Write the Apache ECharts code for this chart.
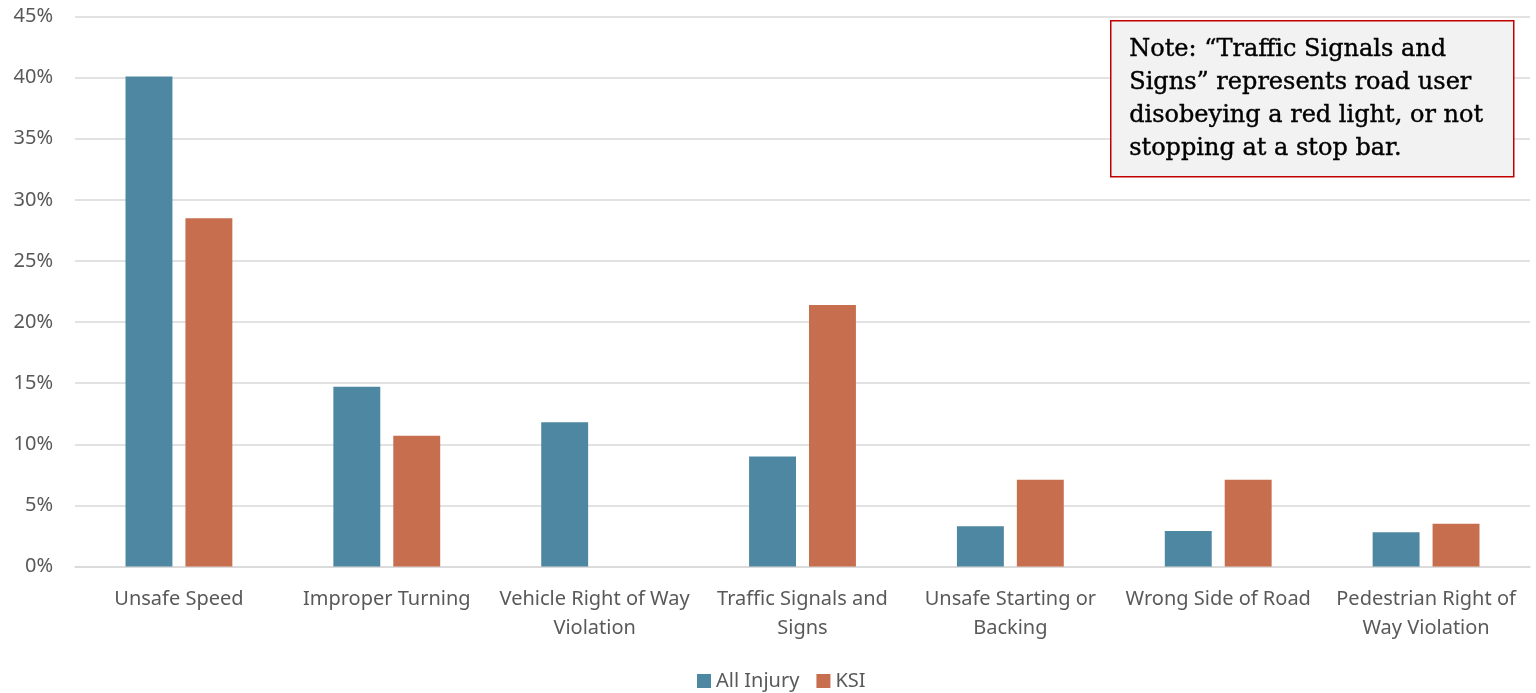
<!DOCTYPE html>
<html><head><meta charset="utf-8">
<script src="https://cdn.jsdelivr.net/npm/echarts@6/dist/echarts.min.js"></script>
<style>html,body{margin:0;padding:0;background:#fff}#c{width:1536px;height:693px}</style>
</head><body><div id="c"></div>
<script>
const categories = ["Unsafe Speed", "Improper Turning", "Vehicle Right of Way\nViolation", "Traffic Signals and\nSigns", "Unsafe Starting or\nBacking", "Wrong Side of Road", "Pedestrian Right of\nWay Violation"];
const allInjury = [40.1, 14.7, 11.8, 9.0, 3.3, 2.9, 2.8];
const ksi = [28.5, 10.7, 0, 21.4, 7.1, 7.1, 3.5];
const yTicks = [0, 45, 5];
const noteText = "Note: \u201cTraffic Signals and\nSigns\u201d represents road user\ndisobeying a red light, or not\nstopping at a stop bar.";

const chart = echarts.init(document.getElementById('c'), null, {renderer: 'canvas'});
const font = '"Noto Sans", "Open Sans", sans-serif';
chart.setOption({
  animation: false,
  backgroundColor: '#ffffff',
  grid: {left: 75, right: 6, top: 16.5, bottom: 126.5, containLabel: false},
  legend: {
    data: ['All Injury', 'KSI'], top: 666, left: 692,
    itemWidth: 14, itemHeight: 14, itemGap: 17,
    icon: 'rect',
    textStyle: {color: '#595959', fontSize: 20, fontFamily: font}
  },
  xAxis: {
    type: 'category', data: categories,
    axisLine: {lineStyle: {color: '#d9d9d9', width: 1.5}},
    axisTick: {show: false},
    axisLabel: {color: '#595959', fontSize: 20, fontFamily: font, interval: 0, margin: 18, lineHeight: 29}
  },
  yAxis: {
    type: 'value', min: yTicks[0], max: yTicks[1], interval: yTicks[2],
    axisLine: {show: false}, axisTick: {show: false},
    splitLine: {lineStyle: {color: '#d9d9d9', width: 1.5}},
    axisLabel: {color: '#595959', fontSize: 20, fontFamily: font, margin: 22, formatter: v => v + '%'}
  },
  series: [
    {name: 'All Injury', type: 'bar', data: allInjury, barGap: '27.7%', barCategoryGap: '48.6%',
     itemStyle: {color: '#4e87a1'}},
    {name: 'KSI', type: 'bar', data: ksi, itemStyle: {color: '#c66e4e'}}
  ],
  graphic: [
    {type: 'rect', left: 1110, top: 20, z: 100,
     shape: {width: 403, height: 156},
     style: {fill: '#f2f2f2', stroke: '#c00000', lineWidth: 1.5}},
    {type: 'text', left: 1129, top: 33, z: 101,
     style: {text: noteText, fill: '#000000', stroke: '#000000', lineWidth: 0.4,
             fontSize: 24, lineHeight: 33,
             fontFamily: '"DejaVu Serif", "Liberation Serif", serif'}}
  ]
});
</script></body></html>
